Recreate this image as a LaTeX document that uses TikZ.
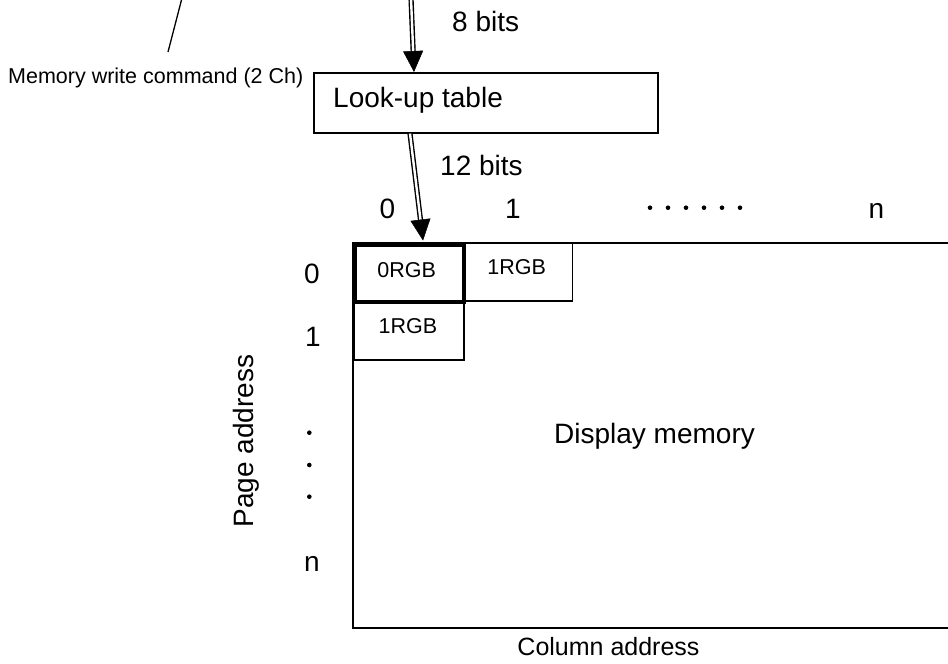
\documentclass[tikz,border=0pt]{standalone}
\usepackage{fontspec}
\setmainfont{Liberation Sans}
\usetikzlibrary{arrows.meta,calc}
\begin{document}
\begin{tikzpicture}[x=1pt,y=-1pt,
  big/.style={font=\fontsize{28}{32}\selectfont, inner sep=0pt},
  mid/.style={font=\fontsize{25}{29}\selectfont, inner sep=0pt},
  small/.style={font=\fontsize{21.5}{25}\selectfont, inner sep=0pt},
  box/.style={draw, line width=1.6pt, inner sep=0pt, anchor=north west},
  thickbox/.style={draw, line width=4pt, inner sep=0pt, anchor=north west},
  dblshaft/.style={draw, double, double distance=2.4pt, line width=1.4pt},
  tip/.style={line width=0.5pt, -{Triangle[length=21pt,width=20pt]}},
  dot/.style={circle, fill=black, inner sep=0pt, minimum size=4.6pt}]
\useasboundingbox (0,0) rectangle (948,664);

% leader line and its label
\coordinate (ldtop) at (182,-2);
\coordinate (ldbot) at (168,52);
\draw[line width=1.3pt] (ldtop) -- (ldbot);
\node[small, anchor=base west] (mwc) at (8,83) {Memory write command (2 Ch)};

% look-up table
\node[box, minimum width=344pt, minimum height=60pt] (lut) at (313,72) {};
\node[big, anchor=base west] (luttext) at (333,107) {Look-up table};

% display memory area
\node[box, minimum width=600pt, minimum height=385pt] (mem) at (352,242) {};
\node[big, anchor=base west] (memtext) at (554,443) {Display memory};

% cells
\node[box, minimum width=109.5pt, minimum height=58pt] (c01) at (462,242) {};
\node[box, minimum width=110pt, minimum height=59pt] (c10) at (353,300) {};
\node[thickbox, minimum width=109pt, minimum height=56.7pt] (c00) at (353.3,243.3) {};
\node[small, anchor=base] (t00) at (406.7,277) {0RGB};
\node[small, anchor=base] (t01) at (516.7,274) {1RGB};
\node[small, anchor=base] (t10) at (408,333) {1RGB};

% arrow 1 (8 bits)
\coordinate (a1top) at (411,-2);
\coordinate (a1end) at ($(lut.north west)+(101,0)$);
\draw[dblshaft] (a1top) -- ($(a1end)!19pt!(a1top)$);
\draw[tip] ($(a1end)!21pt!(a1top)$) -- (a1end);
\node[big, anchor=base west] (b8) at (452,31) {8 bits};

% arrow 2 (12 bits)
\coordinate (a2start) at ($(lut.south west)+(97,0)$);
\coordinate (a2end) at (423,240.5);
\draw[dblshaft] (a2start) -- ($(a2end)!19pt!(a2start)$);
\draw[tip] ($(a2end)!21pt!(a2start)$) -- (a2end);
\node[big, anchor=base west] (b12) at (440,175) {12 bits};

% column labels
\node[big, anchor=base] (col0) at (387.5,218) {0};
\node[big, anchor=base] (col1) at (513,218) {1};
\foreach \i/\x in {1/650,2/668,3/686,4/704,5/722,6/740}
  \node[dot] (cd\i) at (\x,207.7) {};
\node[big, anchor=base] (coln) at (876.5,218) {n};

% row labels
\node[big, anchor=base] (row0) at (312,283) {0};
\node[big, anchor=base] (row1) at (313,346.5) {1};
\foreach \i/\y in {1/432.7,2/465,3/496.7}
  \node[dot] (rd\i) at (309.3,\y) {};
\node[big, anchor=base] (rown) at (312,571) {n};

% axis titles
\node[big, anchor=base, rotate=90] (pa) at (253.5,441) {Page address};
\node[mid, anchor=base] (ca) at (608.5,655) {Column address};
\end{tikzpicture}
\end{document}
